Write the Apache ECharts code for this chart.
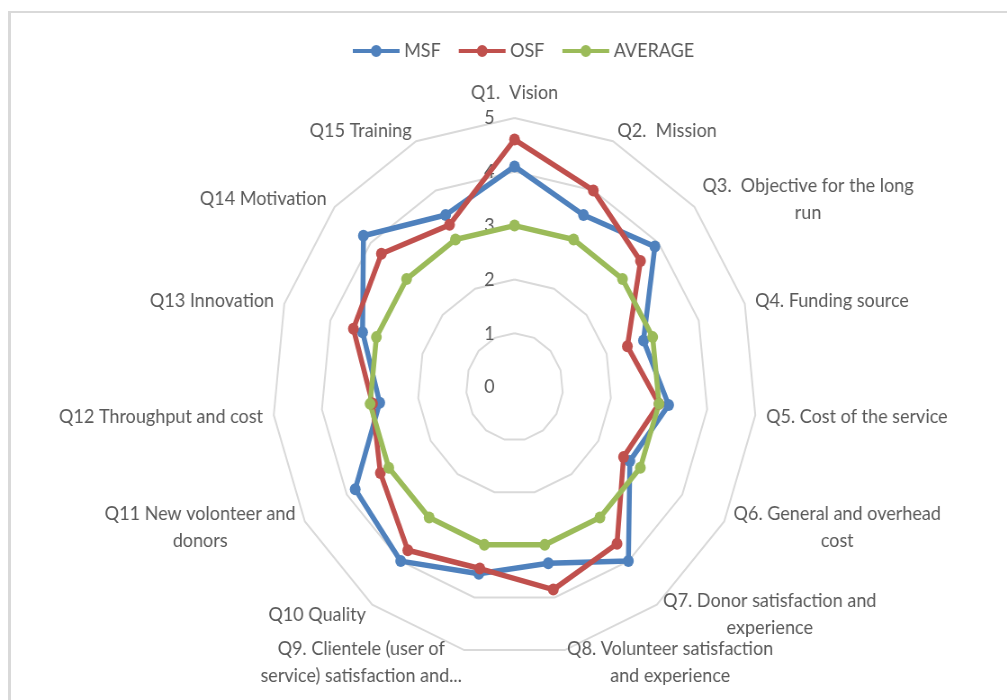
<!DOCTYPE html>
<html><head><meta charset="utf-8">
<script src="https://cdn.jsdelivr.net/npm/echarts@6/dist/echarts.min.js"></script>
<style>
html,body{margin:0;padding:0;background:#fff;overflow:hidden;width:1007px;height:700px;}
#frame{position:absolute;left:8px;top:11px;width:1100px;height:800px;border-left:3px solid #d9d9d9;border-top:2px solid #d9d9d9;box-sizing:border-box;}
#chart{position:absolute;left:0;top:0;width:1119px;height:700px;transform:scaleX(0.9);transform-origin:0 0;}
</style></head><body>
<div id="frame"></div>
<div id="chart"></div>
<script>
const categories = [
  'Q1.  Vision',
  'Q2.  Mission',
  'Q3.  Objective for the long\nrun',
  'Q4. Funding source',
  'Q5. Cost of the service',
  'Q6. General and overhead\ncost',
  'Q7. Donor satisfaction and\nexperience',
  'Q8. Volunteer satisfaction\nand experience',
  'Q9. Clientele (user of\nservice) satisfaction and...',
  'Q10 Quality',
  'Q11 New volonteer and\ndonors',
  'Q12 Throughput and cost',
  'Q13 Innovation',
  'Q14 Motivation',
  'Q15 Training'
];
const seriesNames = ['MSF', 'OSF', 'AVERAGE'];
const msf = [4.1, 3.5, 3.9, 2.8, 3.2, 2.75, 4.0, 3.35, 3.55, 4.0, 3.8, 2.8, 3.3, 4.2, 3.5];
const osf = [4.6, 4.0, 3.5, 2.45, 3.0, 2.6, 3.6, 3.85, 3.45, 3.75, 3.2, 2.95, 3.5, 3.7, 3.3];
const average = [3, 3, 3, 3, 3, 3, 3, 3, 3, 3, 3, 3, 3, 3, 3];
const axisMin = 0, axisMax = 5;

const colors = ['#4F81BD', '#C0504D', '#9BBB59'];
const txt = '#595959';
const font = 'Lato';

// ECharts lays indicators counter-clockwise; reorder so Q1..Q15 run clockwise
const order = [0];
for (let i = categories.length - 1; i >= 1; i--) order.push(i);

const chart = echarts.init(document.getElementById('chart'), null, {renderer: 'canvas'});
const allVals = [msf, osf, average];
chart.setOption({
  animation: false,
  backgroundColor: 'transparent',
  legend: {
    left: 387, top: 36,
    itemWidth: 52, itemHeight: 12, itemGap: 20,
    icon: 'path://M0,6h52v4h-52z M20,8a6,6 0 1,1 12,0a6,6 0 1,1 -12,0z',
    textStyle: {color: txt, fontFamily: font, fontSize: 20},
    data: seriesNames
  },
  radar: {
    center: [571.7, 387],
    radius: 269,
    startAngle: 90,
    splitNumber: 5,
    shape: 'polygon',
    axisNameGap: 12,
    nameGap: 12,
    indicator: order.map(i => ({name: categories[i], min: axisMin, max: axisMax, axisLabel: {show: i === 0}})),
    axisName: {
      color: txt, fontFamily: font, fontSize: 20, lineHeight: 27,
      formatter: function (name) {
        return name.split('\n').map(l => '{c|' + l + '}').join('\n');
      },
      rich: {
        c: {align: 'center', color: txt, fontFamily: font, fontSize: 20, lineHeight: 27}
      }
    },
    axisLine: {show: false},
    axisTick: {show: false},
    axisLabel: {show: true, color: txt, fontFamily: font, fontSize: 20, margin: 22},
    splitLine: {lineStyle: {color: '#D9D9D9', width: 2}},
    splitArea: {show: false}
  },
  series: [{
    type: 'radar',
    symbol: 'circle',
    symbolSize: 12,
    data: seriesNames.map((n, k) => ({
      name: n,
      value: order.map(i => allVals[k][i]),
      symbol: 'circle',
      symbolSize: 12,
      lineStyle: {color: colors[k], width: 5.5},
      itemStyle: {color: colors[k], borderColor: colors[k], borderWidth: 0}
    }))
  }]
});
</script>
</body></html>
